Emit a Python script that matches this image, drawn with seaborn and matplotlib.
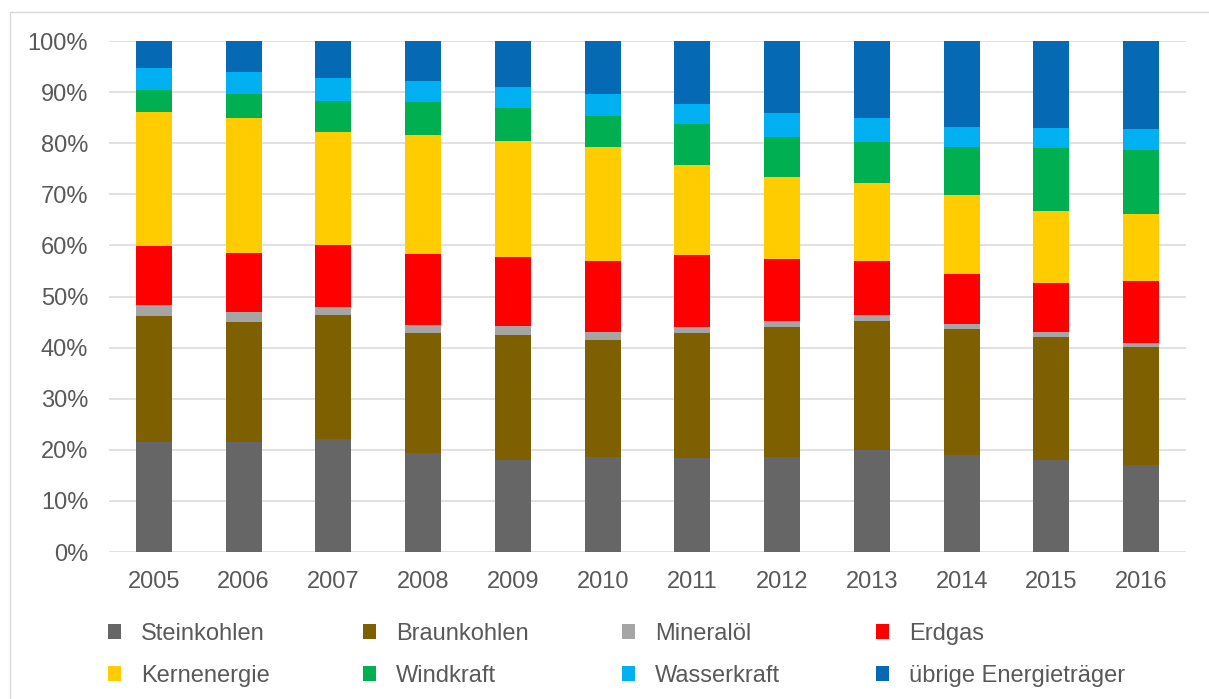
import pandas as pd
import seaborn as sns
import matplotlib.pyplot as plt
from matplotlib.patches import Patch, Rectangle
from matplotlib.ticker import PercentFormatter

# Anteile am Stromerzeugungsmix in Prozent
years = ["2005", "2006", "2007", "2008", "2009", "2010",
         "2011", "2012", "2013", "2014", "2015", "2016"]
steinkohlen = [21.5, 21.5, 22.2, 19.4, 18.1, 18.5, 18.3, 18.5, 20.0, 18.9, 18.1, 17.0]
braunkohlen = [24.7, 23.6, 24.2, 23.5, 24.4, 23.0, 24.6, 25.6, 25.3, 24.8, 24.0, 23.1]
mineraloel = [2.1, 1.9, 1.5, 1.6, 1.7, 1.5, 1.1, 1.2, 1.1, 1.0, 1.0, 0.9]
erdgas = [11.6, 11.6, 12.2, 13.8, 13.5, 14.0, 14.1, 12.1, 10.5, 9.8, 9.5, 12.1]
kernenergie = [26.3, 26.3, 22.0, 23.3, 22.8, 22.3, 17.7, 15.9, 15.3, 15.4, 14.2, 13.1]
windkraft = [4.3, 4.7, 6.2, 6.4, 6.4, 6.0, 7.9, 8.0, 8.1, 9.3, 12.3, 12.4]
wasserkraft = [4.2, 4.3, 4.4, 4.1, 4.2, 4.3, 4.0, 4.6, 4.6, 4.0, 3.8, 4.2]
uebrige = [5.3, 6.1, 7.3, 7.9, 8.9, 10.4, 12.3, 14.1, 15.1, 16.8, 17.1, 17.2]

sources = ["Steinkohlen", "Braunkohlen", "Mineralöl", "Erdgas",
           "Kernenergie", "Windkraft", "Wasserkraft", "übrige Energieträger"]
colors = ["#666666", "#7F6000", "#A5A5A5", "#FF0000",
          "#FFCC00", "#00B050", "#00B0F0", "#0569B3"]

df = pd.DataFrame(dict(zip(sources, [steinkohlen, braunkohlen, mineraloel, erdgas,
                                     kernenergie, windkraft, wasserkraft, uebrige])),
                  index=years)
cum = df.cumsum(axis=1)

sns.set_theme(style="white")
plt.rcParams["font.family"] = ["Liberation Sans", "DejaVu Sans"]
textcol = "#595959"

fig = plt.figure(figsize=(12.09, 6.99), dpi=100)
ax = fig.add_axes([0.0902, 0.2103, 0.8908, 0.731])

# gestapelte Balken: kumulierte Summen von oben nach unten übereinander zeichnen
for src, col in reversed(list(zip(sources, colors))):
    sns.barplot(x=years, y=cum[src].values, color=col, width=0.4,
                saturation=1, linewidth=0, ax=ax)

ax.set_ylim(0, 100)
ax.set_yticks(range(0, 101, 10))
ax.yaxis.set_major_formatter(PercentFormatter(decimals=0))
ax.set_xlabel("")
ax.set_ylabel("")
ax.set_axisbelow(True)
ax.grid(axis="y", color="#D9D9D9", linewidth=1.1)
ax.grid(axis="x", visible=False)
for s in ax.spines.values():
    s.set_visible(False)
ax.tick_params(axis="y", length=0, pad=15, labelsize=17, labelcolor=textcol)
ax.tick_params(axis="x", length=0, pad=14, labelsize=17, labelcolor=textcol)

# Legende: 4 Spalten zu je 2 Einträgen
col_x = [107.5, 362.5, 621.5, 875.5]
for i, x in enumerate(col_x):
    idx = [i, i + 4]
    handles = [Patch(facecolor=colors[j], edgecolor="none") for j in idx]
    fig.legend(handles, [sources[j] for j in idx], loc="upper left",
               bbox_to_anchor=(x / 1209, 1 - 623 / 699), frameon=False,
               fontsize=17, labelcolor=textcol, handlelength=0.56,
               handleheight=0.56, handletextpad=0.85, borderpad=0,
               borderaxespad=0, labelspacing=0.84)

# heller Rahmen um das Diagramm
fig.patches.append(Rectangle((10 / 1209, -0.02), 1.2, 1 - 11.5 / 699 + 0.02,
                             transform=fig.transFigure, fill=False,
                             edgecolor="#D9D9D9", linewidth=1))

fig.savefig("out.png", dpi=100)
